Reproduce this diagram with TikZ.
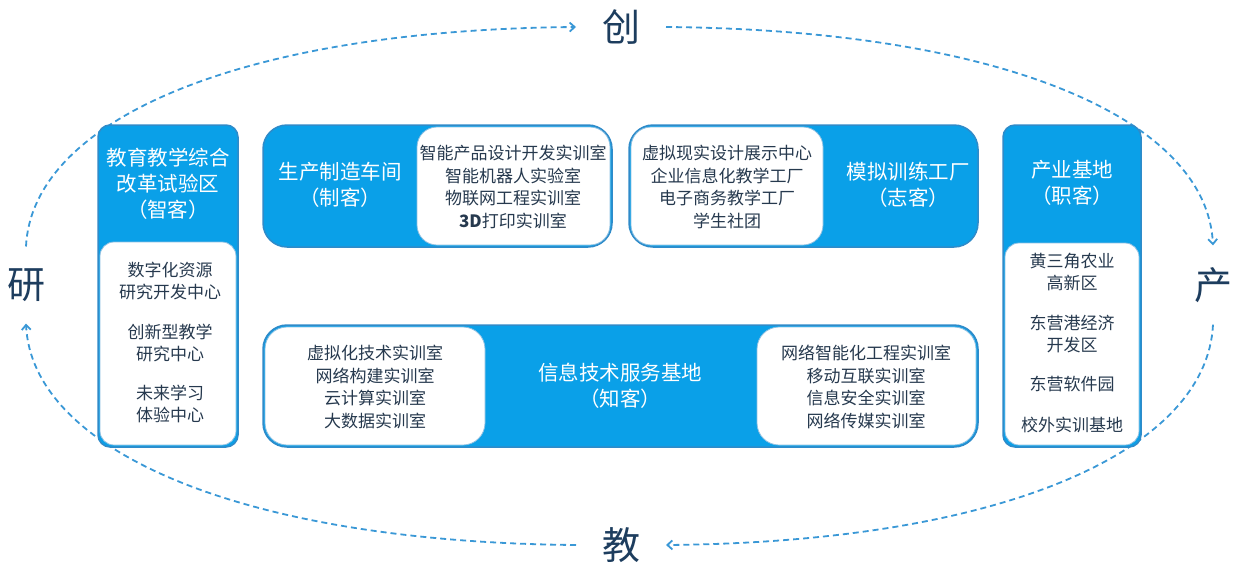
\documentclass[tikz,border=0pt]{standalone}
\usepackage{fontspec}
\setmainfont{Noto Sans CJK SC}
\usetikzlibrary{arrows.meta}

\definecolor{boxblue}{HTML}{0AA0E8}
\definecolor{edgeblue}{HTML}{2F8BC9}
\definecolor{dashblue}{HTML}{3A98D6}
\definecolor{bodyink}{HTML}{26394E}
\definecolor{bigink}{HTML}{1D3D5E}

\tikzset{
  outerbox/.style={draw=edgeblue, line width=1.5pt, fill=boxblue},
  innerbox/.style={draw=edgeblue!55, line width=0.8pt, fill=white},
  headtext/.style={text=white, font=\fontsize{20.5}{26}\selectfont, align=center},
  bodytext/.style={text=bodyink, font=\fontsize{17}{22.5}\selectfont, align=center},
  bigchar/.style={text=bigink, font=\fontsize{38}{38}\selectfont, inner sep=0pt, outer sep=#1},
  cyclearc/.style={draw=dashblue, line width=1.8pt, dash pattern=on 6pt off 4pt,
    -{Straight Barb[length=5pt,width=9pt]}}
}

\begin{document}
\begin{tikzpicture}[x=1pt, y=-1pt]
  \useasboundingbox (0,0) rectangle (1243,571);

  % the four corner characters
  \node[bigchar=26pt] (chuang) at (621,27) {创};
  \node[bigchar=22pt] (chan) at (1213,285) {产};
  \node[bigchar=26pt] (jiao) at (621,545) {教};
  \node[bigchar=22pt] (yan) at (26,285) {研};

  % dashed cycle
  \draw[cyclearc] (yan.north) .. controls +(6,-125) and +(-340,3) .. (chuang.west);
  \draw[cyclearc] (chuang.east) .. controls +(340,3) and +(-6,-125) .. (chan.north);
  \draw[cyclearc] (chan.south) .. controls +(-6,125) and +(340,-3) .. (jiao.east);
  \draw[cyclearc] (jiao.west) .. controls +(-340,-3) and +(6,125) .. (yan.south);

  % left column
  \draw[outerbox, rounded corners=12pt] (98,125) rectangle (238,447);
  \draw[innerbox, rounded corners=14pt] (100,242) rectangle (236,445);
  \node[headtext] (lefthead) at (168,184) {教育教学综合\\改革试验区\\（智客）};
  \node[bodytext] (leftA) at (170,281) {数字化资源\\研究开发中心};
  \node[bodytext] (leftB) at (170,343) {创新型教学\\研究中心};
  \node[bodytext] (leftC) at (170,404) {未来学习\\体验中心};

  % right column
  \draw[outerbox, rounded corners=12pt] (1003,125) rectangle (1141,447);
  \draw[innerbox, rounded corners=14pt] (1005,243) rectangle (1139,445);
  \node[headtext] (righthead) at (1072,183) {产业基地\\（职客）};
  \node[bodytext] (rightA) at (1072,272) {黄三角农业\\高新区};
  \node[bodytext] (rightB) at (1072,334) {东营港经济\\开发区};
  \node[bodytext] (rightC) at (1072,384) {东营软件园};
  \node[bodytext] (rightD) at (1072,425) {校外实训基地};

  % maker workshop
  \draw[outerbox, rounded corners=24pt] (263,125) rectangle (612,247);
  \draw[innerbox, rounded corners=20pt] (417,127) rectangle (610,245);
  \node[headtext] (makerhead) at (340,185) {生产制造车间\\（制客）};
  \node[bodytext] (makerlist) at (513,187)
    {智能产品设计开发实训室\\智能机器人实验室\\物联网工程实训室\\\textbf{3D}打印实训室};

  % simulation factory
  \draw[outerbox, rounded corners=24pt] (629,125) rectangle (978,247);
  \draw[innerbox, rounded corners=20pt] (631,127) rectangle (823,245);
  \node[headtext] (simhead) at (908,185) {模拟训练工厂\\（志客）};
  \node[bodytext] (simlist) at (727,187)
    {虚拟现实设计展示中心\\企业信息化教学工厂\\电子商务教学工厂\\学生社团};

  % information base
  \draw[outerbox, rounded corners=24pt] (263,325) rectangle (978,447);
  \draw[innerbox, rounded corners=22pt] (265,327) rectangle (485,445);
  \draw[innerbox, rounded corners=22pt] (757,327) rectangle (976,445);
  \node[headtext] (infohead) at (620,386) {信息技术服务基地\\（知客）};
  \node[bodytext] (infoleft) at (375,387)
    {虚拟化技术实训室\\网络构建实训室\\云计算实训室\\大数据实训室};
  \node[bodytext] (inforight) at (866,387)
    {网络智能化工程实训室\\移动互联实训室\\信息安全实训室\\网络传媒实训室};
\end{tikzpicture}
\end{document}
